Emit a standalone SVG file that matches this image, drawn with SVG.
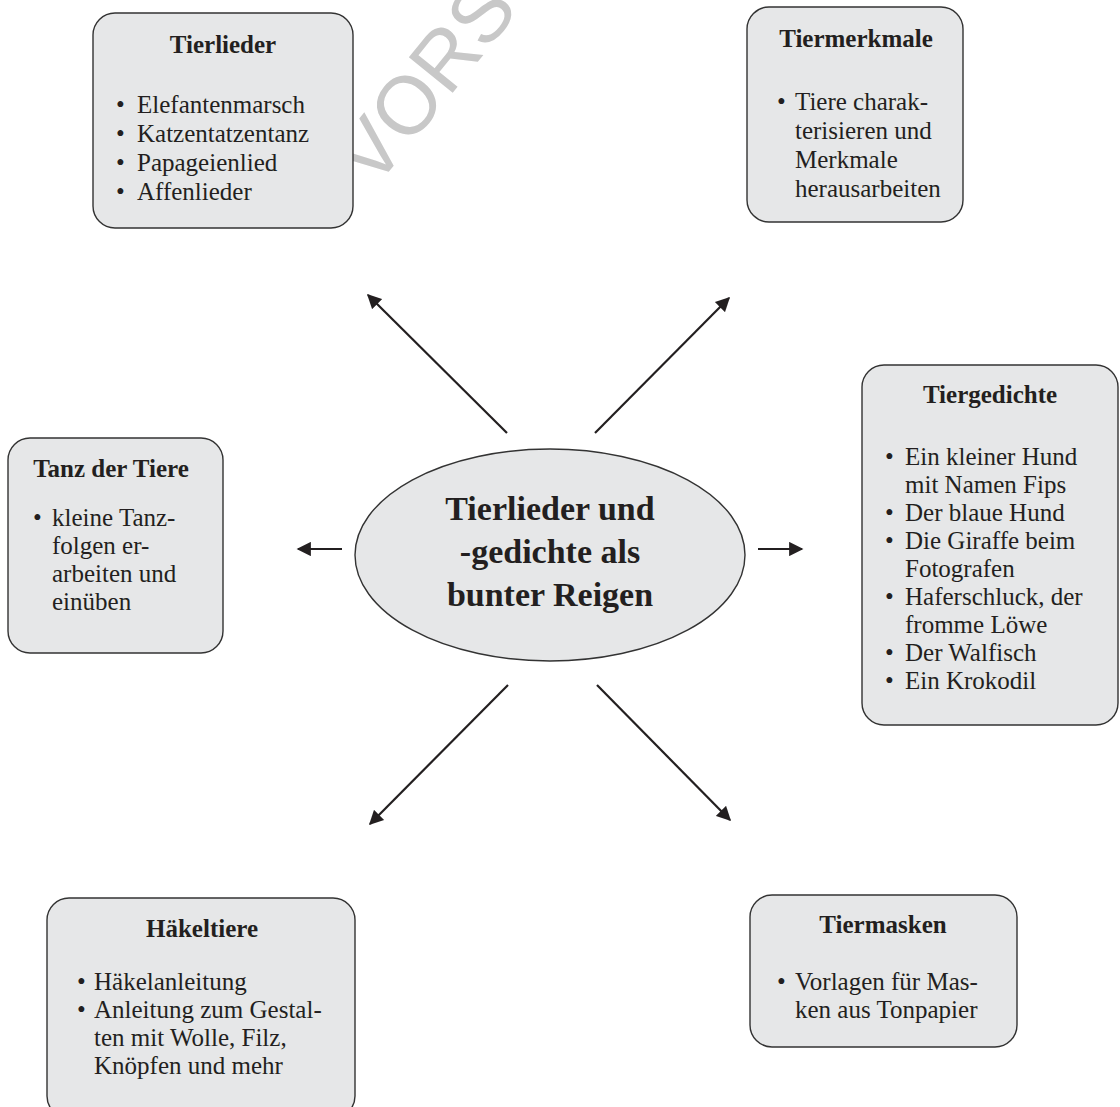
<svg xmlns="http://www.w3.org/2000/svg" width="1120" height="1107" viewBox="0 0 1120 1107">
<defs>
<style>
.box{fill:#e6e7e8;stroke:#333333;stroke-width:1.4}
.t{font-family:"Liberation Serif","Times New Roman",serif;font-size:25px;fill:#231f20}
.h{font-family:"Liberation Serif","Times New Roman",serif;font-size:25px;font-weight:bold;fill:#231f20;text-anchor:middle}
.c{font-family:"Liberation Serif","Times New Roman",serif;font-size:34px;font-weight:bold;fill:#231f20;text-anchor:middle}
.ln{stroke:#231f20;stroke-width:2.2;fill:none;marker-end:url(#ah)}
.wm{font-family:"Liberation Sans",Arial,sans-serif;font-size:82px;fill:#c8c8c8}
</style>
<marker id="ah" viewBox="0 0 10 10" refX="9" refY="5" markerWidth="7" markerHeight="6.5" orient="auto" markerUnits="strokeWidth">
<path d="M0,0 L10,5 L0,10 Z" fill="#231f20"/>
</marker>
</defs>
<rect width="1120" height="1107" fill="#ffffff"/>
<text class="wm" transform="translate(374,190) rotate(-51)">VORS</text>

<g id="connectors">
<line class="ln" x1="507" y1="433" x2="368" y2="295"/>
<line class="ln" x1="595" y1="433" x2="729" y2="298"/>
<line class="ln" x1="342" y1="549" x2="298" y2="549"/>
<line class="ln" x1="758" y1="549" x2="802" y2="549"/>
<line class="ln" x1="508" y1="685" x2="370" y2="824"/>
<line class="ln" x1="597" y1="685" x2="730" y2="820"/>
</g>

<g id="center">
<ellipse class="box" cx="550" cy="555" rx="195" ry="106"/>
<text class="c" x="550" y="520">Tierlieder und</text>
<text class="c" x="550" y="563">-gedichte als</text>
<text class="c" x="550" y="606">bunter Reigen</text>
</g>

<g id="tierlieder">
<rect class="box" x="93" y="13" width="260" height="215" rx="22"/>
<text class="h" x="223" y="53">Tierlieder</text>
<text class="t" x="116" y="113">•</text><text class="t" x="137" y="113">Elefantenmarsch</text>
<text class="t" x="116" y="142">•</text><text class="t" x="137" y="142">Katzentatzentanz</text>
<text class="t" x="116" y="171">•</text><text class="t" x="137" y="171">Papageienlied</text>
<text class="t" x="116" y="200">•</text><text class="t" x="137" y="200">Affenlieder</text>
</g>

<g id="tiermerkmale">
<rect class="box" x="747" y="7" width="216" height="215" rx="22"/>
<text class="h" x="856" y="47">Tiermerkmale</text>
<text class="t" x="777" y="110">•</text><text class="t" x="795" y="110">Tiere charak-</text>
<text class="t" x="795" y="139">terisieren und</text>
<text class="t" x="795" y="168">Merkmale</text>
<text class="t" x="795" y="197">herausarbeiten</text>
</g>

<g id="tanz">
<rect class="box" x="8" y="438" width="215" height="215" rx="22"/>
<text class="h" x="111" y="477">Tanz der Tiere</text>
<text class="t" x="33" y="526">•</text><text class="t" x="52" y="526">kleine Tanz-</text>
<text class="t" x="52" y="554">folgen er-</text>
<text class="t" x="52" y="582">arbeiten und</text>
<text class="t" x="52" y="610">einüben</text>
</g>

<g id="tiergedichte">
<rect class="box" x="862" y="365" width="256" height="360" rx="22"/>
<text class="h" x="990" y="403">Tiergedichte</text>
<text class="t" x="885" y="465">•</text><text class="t" x="905" y="465">Ein kleiner Hund</text>
<text class="t" x="905" y="493">mit Namen Fips</text>
<text class="t" x="885" y="521">•</text><text class="t" x="905" y="521">Der blaue Hund</text>
<text class="t" x="885" y="549">•</text><text class="t" x="905" y="549">Die Giraffe beim</text>
<text class="t" x="905" y="577">Fotografen</text>
<text class="t" x="885" y="605">•</text><text class="t" x="905" y="605">Haferschluck, der</text>
<text class="t" x="905" y="633">fromme Löwe</text>
<text class="t" x="885" y="661">•</text><text class="t" x="905" y="661">Der Walfisch</text>
<text class="t" x="885" y="689">•</text><text class="t" x="905" y="689">Ein Krokodil</text>
</g>

<g id="haekeltiere">
<rect class="box" x="47" y="898" width="308" height="220" rx="22"/>
<text class="h" x="202" y="937">Häkeltiere</text>
<text class="t" x="77" y="990">•</text><text class="t" x="94" y="990">Häkelanleitung</text>
<text class="t" x="77" y="1018">•</text><text class="t" x="94" y="1018">Anleitung zum Gestal-</text>
<text class="t" x="94" y="1046">ten mit Wolle, Filz,</text>
<text class="t" x="94" y="1074">Knöpfen und mehr</text>
</g>

<g id="tiermasken">
<rect class="box" x="750" y="895" width="267" height="152" rx="22"/>
<text class="h" x="883" y="933">Tiermasken</text>
<text class="t" x="777" y="990">•</text><text class="t" x="795" y="990">Vorlagen für Mas-</text>
<text class="t" x="795" y="1018">ken aus Tonpapier</text>
</g>
</svg>
